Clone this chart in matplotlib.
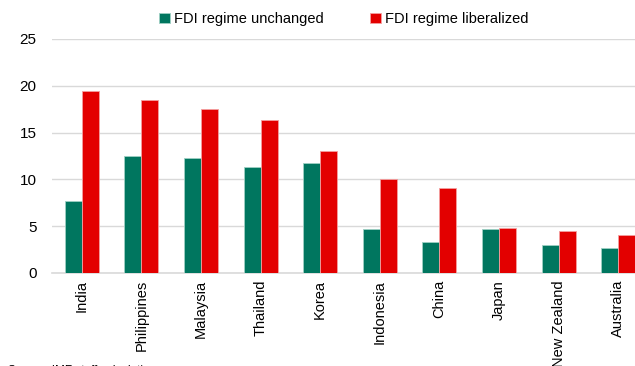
import matplotlib
matplotlib.use("Agg")
import matplotlib.pyplot as plt
import numpy as np

plt.rcParams['font.family'] = ['Liberation Sans', 'DejaVu Sans']

countries = ["India", "Philippines", "Malaysia", "Thailand", "Korea",
             "Indonesia", "China", "Japan", "New Zealand", "Australia"]
unchanged = [7.7, 12.5, 12.3, 11.3, 11.75, 4.7, 3.3, 4.7, 3.0, 2.7]
liberalized = [19.4, 18.5, 17.5, 16.3, 13.0, 10.05, 9.1, 4.8, 4.5, 4.1]
yticks = [0, 5, 10, 15, 20, 25]

green = '#00765F'
red = '#E30000'

fig = plt.figure(figsize=(6.35, 3.66), dpi=100)
ax = fig.add_axes([52/635, 93/366, 596/635, 234/366])

x = np.arange(len(countries))
w = 0.285
ax.bar(x - w/2, unchanged, w, color=green, edgecolor='#9fd0c4', linewidth=0.6,
       label='FDI regime unchanged', zorder=3)
ax.bar(x + w/2, liberalized, w, color=red, edgecolor='#f4a0a0', linewidth=0.6,
       label='FDI regime liberalized', zorder=3)

ax.set_ylim(0, 25)
ax.set_xlim(-0.5, 9.5)
ax.set_yticks(yticks)
ax.set_yticklabels([str(v) for v in yticks], fontsize=11)
ax.set_xticks(x)
ax.set_xticklabels(countries, rotation=90, fontsize=10.5)
ax.tick_params(axis='x', length=0, pad=5)
ax.tick_params(axis='y', length=0, pad=11)
ax.yaxis.grid(True, color='#d9d9d9', linewidth=1, zorder=0)
for s in ['top', 'right', 'left']:
    ax.spines[s].set_visible(False)
ax.spines['bottom'].set_color('#d9d9d9')
ax.spines['bottom'].set_linewidth(1.2)

leg = fig.legend(loc='center', bbox_to_anchor=(344/635, 1 - 19/366), ncol=2,
                 frameon=False, fontsize=10.5, handlelength=0.7, handleheight=0.7,
                 handletextpad=0.3, columnspacing=3.2)

fig.text(10/635, 1 + 4/366, "(Percent increase in inward FDI stock)",
         color='#1a9a8a', fontsize=11, va='bottom', ha='left')
fig.text(8/635, 1/366, "Source: IMF staff calculations.", fontsize=8.5,
         va='top', ha='left')

fig.savefig('out.png', dpi=100)
